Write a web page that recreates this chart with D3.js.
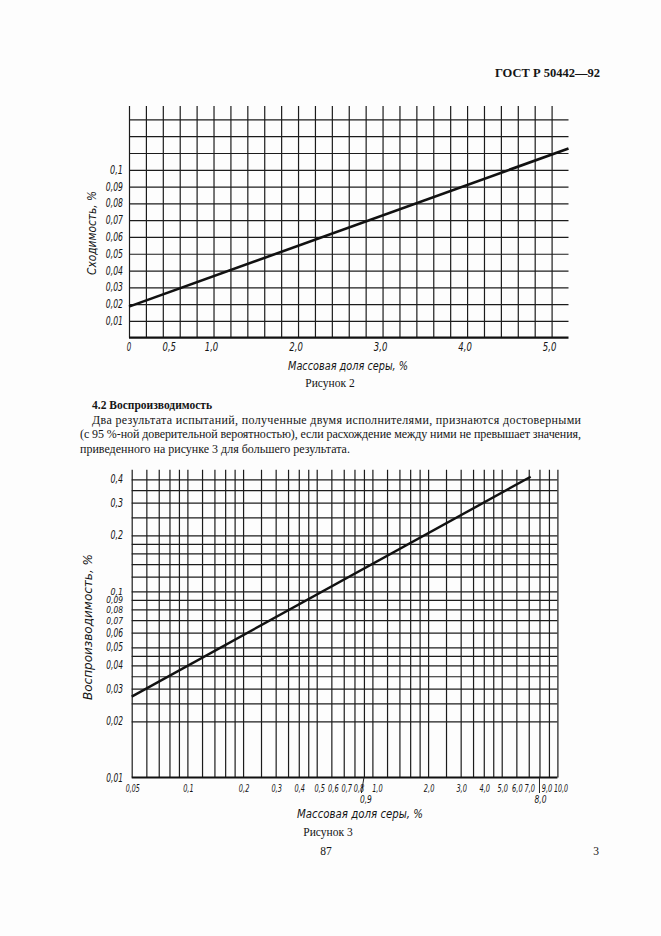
<!DOCTYPE html>
<html>
<head>
<meta charset="utf-8">
<script src="https://cdn.jsdelivr.net/npm/d3@7"></script>
<style>
    body { margin: 0; background: #fdfdfd; }
    svg { display: block; }
    .gost { font-family: "Liberation Sans Narrow", "DejaVu Sans Condensed", sans-serif; font-style: italic; fill: #151515; }
    .serif { font-family: "Liberation Serif", "Times New Roman", serif; fill: #151515; }
    .grid line { stroke: #1c1c1c; stroke-width: 1.2px; }
</style>
</head>
<body>
<svg width="661" height="936"></svg>
<script>
// Рисунок 2: сходимость
const fig2Sulfur = [0, 5.2];
const fig2Repeat = [0.0185, 0.1127];
const fig2XTicks = [0, 0.5, 1, 2, 3, 4, 5];
const fig2XLabels = ["0", "0,5", "1,0", "2,0", "3,0", "4,0", "5,0"];
const fig2YTicks = [0.01, 0.02, 0.03, 0.04, 0.05, 0.06, 0.07, 0.08, 0.09, 0.1];
const fig2YLabels = ["0,01", "0,02", "0,03", "0,04", "0,05", "0,06", "0,07", "0,08", "0,09", "0,1"];

// Рисунок 3: воспроизводимость (логарифмическая сетка)
const fig3Sulfur = [0.05, 7.17];
const fig3Repro = [0.0272, 0.413];
const fig3XGrid = [0.05, 0.06, 0.07, 0.08, 0.09, 0.1, 0.12, 0.14, 0.16, 0.18, 0.2, 0.25, 0.3, 0.35,
    0.4, 0.45, 0.5, 0.6, 0.7, 0.8, 0.9, 1, 1.2, 1.4, 1.6, 1.8, 2, 2.5, 3, 3.5, 4, 4.5, 5, 6, 7, 8, 9, 10];
const fig3YGrid = [0.02, 0.025, 0.03, 0.035, 0.04, 0.045, 0.05, 0.06, 0.07, 0.08, 0.09, 0.1,
    0.12, 0.14, 0.16, 0.18, 0.2, 0.25, 0.3, 0.35, 0.4];
const fig3XTicks = [0.05, 0.1, 0.2, 0.3, 0.4, 0.5, 0.6, 0.7, 0.8, 1, 2, 3, 4, 5, 6, 7, 9, 10];
const fig3XLabels = ["0,05", "0,1", "0,2", "0,3", "0,4", "0,5", "0,6", "0,7", "0,8", "1,0",
    "2,0", "3,0", "4,0", "5,0", "6,0", "7,0", "9,0", "10,0"];
const fig3XLow = [0.9, 8];
const fig3XLowLabels = ["0,9", "8,0"];
const fig3YTicks = [0.01, 0.02, 0.03, 0.04, 0.05, 0.06, 0.07, 0.08, 0.09, 0.1, 0.2, 0.3, 0.4];
const fig3YLabels = ["0,01", "0,02", "0,03", "0,04", "0,05", "0,06", "0,07", "0,08", "0,09", "0,1", "0,2", "0,3", "0,4"];

const paragraph = [
    "Два результата испытаний, полученные двумя исполнителями, признаются  достоверными",
    "(с 95 %-ной доверительной вероятностью), если расхождение между ними не превышает значения,",
    "приведенного на рисунке 3 для большего результата."
];

let svg = d3.select("svg");

// squeeze the drawing-font labels to the narrow GOST letter width
function narrow(sel, perChar) {
    sel.attr("textLength", function () { return this.textContent.length * perChar; })
        .attr("lengthAdjust", "spacingAndGlyphs");
}

// Page text
svg.append("text").attr("class", "serif").attr("x", 600).attr("y", 77)
    .attr("text-anchor", "end").attr("font-size", "12.5px").attr("font-weight", "bold")
    .text("ГОСТ Р 50442—92");

// ---------- Figure 2 ----------
let x2 = d3.scaleLinear().domain([0, 5.2]).range([129, 568.5]);
let y2 = d3.scaleLinear().domain([0, 0.138]).range([337.7, 106]);

svg.append("g").attr("class", "grid")
    .attr("transform", `translate(0,${y2(0)})`)
    .call(d3.axisBottom(x2).tickValues(d3.range(0, 5.01, 0.2)).tickSize(-(y2(0) - y2(0.138))).tickFormat(""))
    .call((g) => g.select(".domain").remove());

svg.append("g").attr("class", "grid")
    .attr("transform", `translate(${x2(0)},0)`)
    .call(d3.axisLeft(y2).tickValues(d3.range(0.01, 0.135, 0.01)).tickSize(-(x2(5.2) - x2(0))).tickFormat(""))
    .call((g) => g.select(".domain").remove());

svg.append("line")
    .attr("x1", x2(0)).attr("x2", x2(5.2)).attr("y1", y2(0)).attr("y2", y2(0))
    .attr("stroke", "#111").attr("stroke-width", 2.2);

svg.append("path")
    .datum(d3.zip(fig2Sulfur, fig2Repeat))
    .attr("fill", "none").attr("stroke", "#111").attr("stroke-width", 2.6)
    .attr("d", d3.line().x((d) => x2(d[0])).y((d) => y2(d[1])));

svg.append("g").selectAll("text").data(fig2YTicks).enter().append("text")
    .attr("class", "gost").attr("font-size", "11.5px").attr("text-anchor", "end")
    .attr("x", 123).attr("y", (d) => y2(d) + 4)
    .text((d, i) => fig2YLabels[i])
    .call(narrow, 4.3);

svg.append("g").selectAll("text").data(fig2XTicks).enter().append("text")
    .attr("class", "gost").attr("font-size", "11.5px").attr("text-anchor", "middle")
    .attr("x", (d) => x2(d) - (d == 0 ? 0 : 2)).attr("y", 351)
    .text((d, i) => fig2XLabels[i])
    .call(narrow, 4.5);

svg.append("text").attr("class", "gost").attr("font-size", "12px")
    .attr("text-anchor", "middle").attr("transform", "translate(96,233) rotate(-90)")
    .attr("textLength", 84).attr("lengthAdjust", "spacingAndGlyphs")
    .text("Сходимость, %");

svg.append("text").attr("class", "gost").attr("font-size", "12px")
    .attr("text-anchor", "middle").attr("x", 348).attr("y", 370)
    .attr("textLength", 120).attr("lengthAdjust", "spacingAndGlyphs")
    .text("Массовая  доля  серы, %");

svg.append("text").attr("class", "serif").attr("font-size", "11.5px")
    .attr("text-anchor", "middle").attr("x", 330).attr("y", 387)
    .text("Рисунок 2");

// Section text
svg.append("text").attr("class", "serif").attr("font-size", "11.5px").attr("font-weight", "bold")
    .attr("x", 92).attr("y", 409).text("4.2 Воспроизводимость");

paragraph.forEach((line, i) => {
    let t = svg.append("text").attr("class", "serif").attr("font-size", "12px")
        .attr("x", i == 0 ? 92 : 80).attr("y", 424 + i * 14.3).text(line);
    if (i < 2) t.attr("textLength", i == 0 ? 489 : 501).attr("lengthAdjust", "spacing");
});

// ---------- Figure 3 ----------
let x3 = d3.scaleLog().domain([0.05, 10]).range([131.7, 557.4]);
let y3 = d3.scaleLog().domain([0.01, 0.45]).range([777.5, 469.8]);

svg.append("g").attr("class", "grid")
    .attr("transform", `translate(0,${y3(0.01)})`)
    .call(d3.axisBottom(x3).tickValues(fig3XGrid).tickSize(-(y3(0.01) - y3(0.45))).tickFormat(""))
    .call((g) => g.select(".domain").remove());

svg.append("g").attr("class", "grid")
    .attr("transform", `translate(${x3(0.05)},0)`)
    .call(d3.axisLeft(y3).tickValues(fig3YGrid).tickSize(-(x3(10) - x3(0.05))).tickFormat(""))
    .call((g) => g.select(".domain").remove());

svg.append("line")
    .attr("x1", x3(0.05)).attr("x2", x3(10)).attr("y1", y3(0.01)).attr("y2", y3(0.01))
    .attr("stroke", "#111").attr("stroke-width", 2.2);

svg.append("path")
    .datum(d3.zip(fig3Sulfur, fig3Repro))
    .attr("fill", "none").attr("stroke", "#111").attr("stroke-width", 2.4)
    .attr("d", d3.line().x((d) => x3(d[0])).y((d) => y3(d[1])));

svg.append("g").selectAll("text").data(fig3YTicks).enter().append("text")
    .attr("class", "gost").attr("font-size", (d) => (d >= 0.07 && d <= 0.1 ? "9.5px" : "11.5px"))
    .attr("text-anchor", "end")
    .attr("x", 123).attr("y", (d) => y3(d) + (d >= 0.07 && d <= 0.1 ? 3.5 : 4))
    .text((d, i) => fig3YLabels[i])
    .call(narrow, 4.2);

// label shift so crowded labels sit like the drawing
function labelX(d) {
    if (d == 10) return x3(d) - 3.5;
    if (d == 9) return x3(d) - 2;
    if (d == 1) return x3(d) + 5;
    if (d == 0.8) return x3(d) + 4.5;
    if (d == 0.6) return x3(d) + 2;
    if (d >= 0.5 && d < 1) return x3(d) + 3;
    return x3(d) + 1;
}

svg.append("g").selectAll("text").data(fig3XTicks).enter().append("text")
    .attr("class", "gost").attr("font-size", "11px")
    .attr("text-anchor", (d) => (d == 10 ? "start" : "middle"))
    .attr("x", labelX)
    .attr("y", 792)
    .text((d, i) => fig3XLabels[i])
    .call(narrow, 3.5);

// labels moved below with leader lines
svg.append("g").selectAll("line").data(fig3XLow).enter().append("line")
    .attr("x1", (d) => x3(d)).attr("y1", y3(0.01))
    .attr("x2", (d) => x3(d) - (d < 1 ? 2.5 : 0)).attr("y2", 793)
    .attr("stroke", "#222").attr("stroke-width", 1);

svg.append("g").selectAll("text").data(fig3XLow).enter().append("text")
    .attr("class", "gost").attr("font-size", "11px").attr("text-anchor", "middle")
    .attr("x", (d) => x3(d) + (d < 1 ? 2 : 1)).attr("y", 803)
    .text((d, i) => fig3XLowLabels[i])
    .call(narrow, 4);

svg.append("text").attr("class", "gost").attr("font-size", "12px")
    .attr("text-anchor", "middle").attr("transform", "translate(92,627) rotate(-90)")
    .attr("textLength", 146).attr("lengthAdjust", "spacingAndGlyphs")
    .text("Воспроизводимость, %");

svg.append("text").attr("class", "gost").attr("font-size", "12px")
    .attr("text-anchor", "middle").attr("x", 360).attr("y", 818)
    .attr("textLength", 126).attr("lengthAdjust", "spacingAndGlyphs")
    .text("Массовая  доля  серы, %");

svg.append("text").attr("class", "serif").attr("font-size", "11.5px")
    .attr("text-anchor", "middle").attr("x", 328).attr("y", 836)
    .text("Рисунок 3");

svg.append("text").attr("class", "serif").attr("font-size", "11.5px")
    .attr("text-anchor", "middle").attr("x", 326).attr("y", 855).text("87");
svg.append("text").attr("class", "serif").attr("font-size", "11.5px")
    .attr("text-anchor", "middle").attr("x", 596).attr("y", 855).text("3");
</script>
</body>
</html>
